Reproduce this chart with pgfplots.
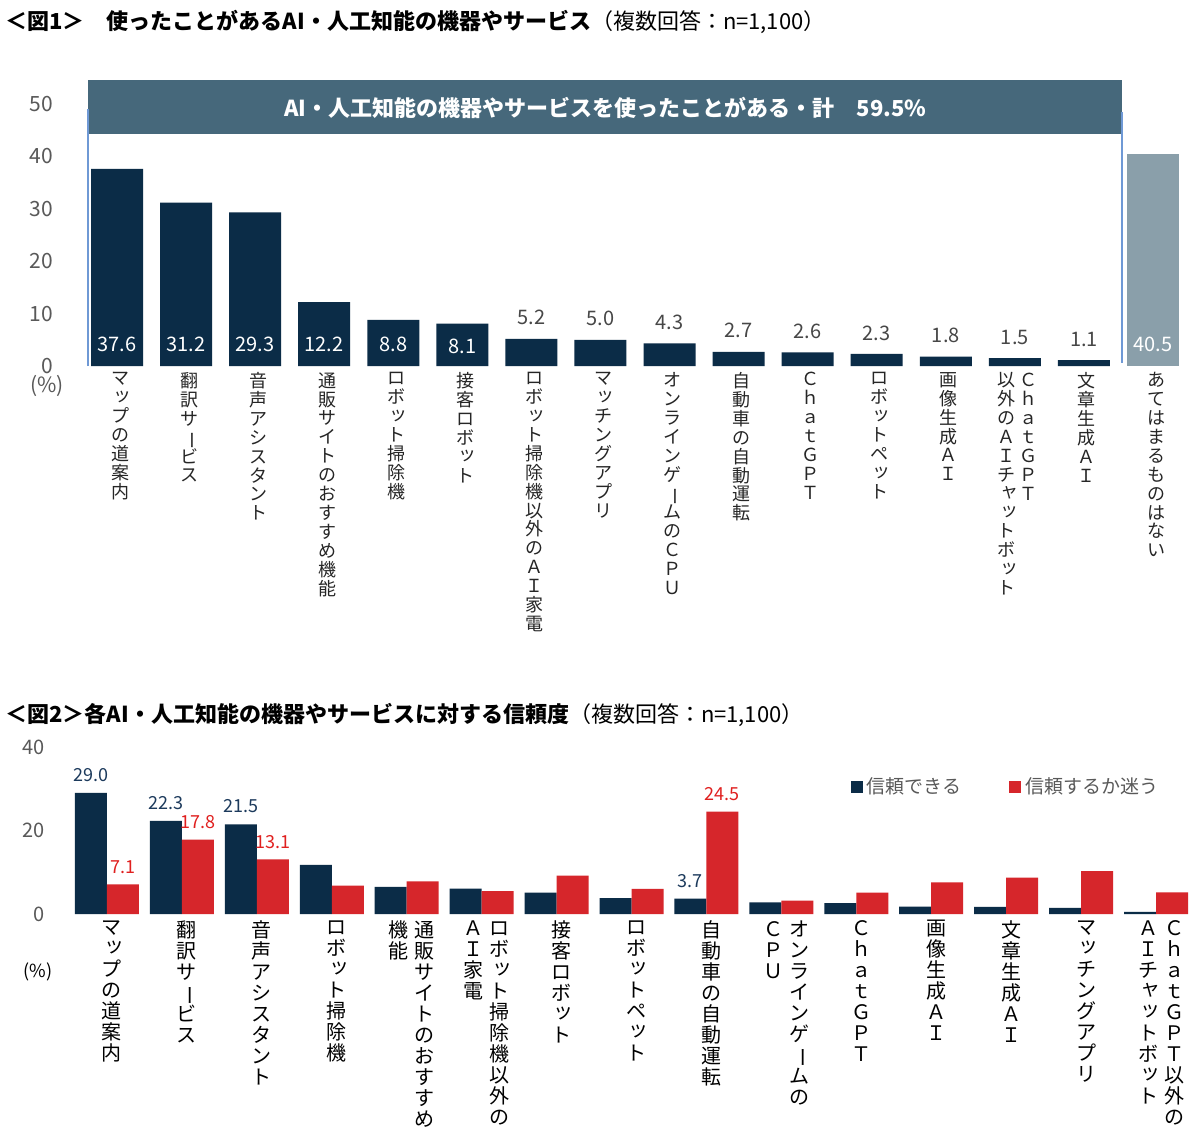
\documentclass[border=0pt]{standalone}
\usepackage{pgfplots}
\pgfplotsset{compat=1.18}
\usepackage{fontspec}
\usepackage{graphicx}
\setmainfont{Noto Sans CJK JP}
\definecolor{navy}{HTML}{0B2C47}
\definecolor{boxc}{HTML}{46687B}
\definecolor{grayb}{HTML}{8A9FAA}
\definecolor{redb}{HTML}{D6262B}
\definecolor{linec}{HTML}{6F99D5}
\definecolor{tickc}{HTML}{595959}
\definecolor{navyt}{HTML}{1C3A5C}
\definecolor{redt}{HTML}{E0201F}
\definecolor{labc}{HTML}{262626}
\ExplSyntaxOn
\cs_new:Npn \vt_small:n #1 { \hbox{\kern0.12em\raise0.12em\hbox{#1}\kern-0.12em} }
\cs_new:Npn \vt_char:n #1
 {
  \str_case:nnF {#1}
   {
    {ー}{ \rotatebox[origin=c]{-90}{ー} }
    {ッ}{ \vt_small:n {ッ} }
    {ャ}{ \vt_small:n {ャ} }
    {ョ}{ \vt_small:n {ョ} }
    {ュ}{ \vt_small:n {ュ} }
    {ィ}{ \vt_small:n {ィ} }
   }
   {#1}
 }
\NewDocumentCommand \vcol { m }
 {
  \vtop
   {
    \baselineskip=1.05em
    \lineskip=0pt
    \lineskiplimit=-100pt
    \tl_map_inline:nn {#1} { \hbox to 1.05em { \hss \vt_char:n {##1} \hss } }
   }
 }
\ExplSyntaxOff
\begin{document}
\begin{tikzpicture}
\useasboundingbox (0,0) rectangle (600pt,-571pt);
\fill[white] (0,0) rectangle (600pt,-571pt);
\clip (0,0) rectangle (600pt,-571pt);

\node[anchor=west, inner sep=0pt, font=\fontsize{11}{13}\selectfont, text=black] at (2.5pt,-11pt)
 {\textbf{＜図1＞　使ったことがあるAI・人工知能の機器やサービス}（複数回答：n=1,100）};
\node[anchor=west, inner sep=0pt, font=\fontsize{11}{13}\selectfont, text=black] at (2.5pt,-357.5pt)
 {\textbf{＜図2＞各AI・人工知能の機器やサービスに対する信頼度}（複数回答：n=1,100）};

% ---------------- Chart 1 ----------------
\begin{axis}[
 at={(44pt,-183pt)}, anchor=south west,
 scale only axis, width=547pt, height=131pt,
 xmin=-0.42, xmax=15.42, ymin=0, ymax=50,
 axis line style={draw=none}, major tick length=0pt,
 ytick={0,10,...,50},
 yticklabel style={font=\fontsize{10.5}{12}\selectfont, text=tickc, xshift=-14pt},
 /pgf/number format/assume math mode=true,
 xtick={0,...,15},
 xticklabels={
  {\vcol{マップの道案内}},
  {\vcol{翻訳サービス}},
  {\vcol{音声アシスタント}},
  {\vcol{通販サイトのおすすめ機能}},
  {\vcol{ロボット掃除機}},
  {\vcol{接客ロボット}},
  {\vcol{ロボット掃除機以外のＡＩ家電}},
  {\vcol{マッチングアプリ}},
  {\vcol{オンラインゲームのＣＰＵ}},
  {\vcol{自動車の自動運転}},
  {\vcol{ＣｈａｔＧＰＴ}},
  {\vcol{ロボットペット}},
  {\vcol{画像生成ＡＩ}},
  {\vcol{以外のＡＩチャットボット}\hspace{1.5pt}\vcol{ＣｈａｔＧＰＴ}\hspace{3pt}},
  {\vcol{文章生成ＡＩ}},
  {\vcol{あてはまるものはない}}
 },
 xticklabel style={anchor=north, inner sep=0pt, yshift=-3pt, xshift=1.5pt, font=\fontsize{9}{10}\selectfont, text=labc},
 clip=false,
]
\fill[boxc] (axis cs:-0.42,44.3) rectangle (axis cs:14.55,54.6);
\draw[linec, line width=0.7pt] (axis cs:-0.42,0) -- (axis cs:-0.42,49);
\draw[linec, line width=0.7pt] (axis cs:14.55,0.6) -- (axis cs:14.55,48.5);
\node[text=white, font=\bfseries\fontsize{11}{13}\selectfont] at (axis cs:7.07,49.3)
 {AI・人工知能の機器やサービスを使ったことがある・計\quad 59.5\%};

\addplot[ybar, bar width=26pt, bar shift=0pt, fill=navy, draw=none] coordinates {
 (0,37.6) (1,31.2) (2,29.3) (3,12.2) (4,8.8) (5,8.1) (6,5.2) (7,5.0)
 (8,4.3) (9,2.7) (10,2.6) (11,2.3) (12,1.8) (13,1.5) (14,1.1)};
\addplot[ybar, bar width=26pt, bar shift=0pt, fill=grayb, draw=none] coordinates {(15,40.5)};

\addplot[draw=none, nodes near coords, point meta=explicit symbolic,
 nodes near coords style={anchor=center, text=white, font=\fontsize{10}{12}\selectfont}]
 coordinates {(0,4.2)[37.6] (1,4.2)[31.2] (2,4.2)[29.3] (3,4.2)[12.2] (4,4.2)[8.8] (5,3.7)[8.1] (15,4.2)[40.5]};
\addplot[draw=none, nodes near coords, point meta=explicit symbolic,
 nodes near coords style={anchor=center, yshift=10.5pt, text=labc!85, font=\fontsize{10}{12}\selectfont}]
 coordinates {(6,5.2)[5.2] (7,5.0)[5.0] (8,4.3)[4.3] (9,2.7)[2.7] (10,2.6)[2.6] (11,2.3)[2.3] (12,1.8)[1.8] (13,1.5)[1.5] (14,1.1)[1.1]};
\end{axis}
\node[font=\fontsize{10.5}{12}\selectfont, text=tickc] at (23.5pt,-193pt) {(\%)};

% ---------------- Chart 2 ----------------
\begin{axis}[
 at={(37pt,-457pt)}, anchor=south west,
 scale only axis, width=557.5pt, height=83.5pt,
 xmin=-0.44, xmax=14.44, ymin=0, ymax=40,
 ybar=0pt, bar width=16pt,
 axis line style={draw=none}, major tick length=0pt,
 ytick={0,20,40},
 yticklabel style={font=\fontsize{10}{12}\selectfont, text=tickc, xshift=-11pt},
 /pgf/number format/assume math mode=true,
 xtick={0,...,14},
 xticklabels={
  {\vcol{マップの道案内}},
  {\vcol{翻訳サービス}},
  {\vcol{音声アシスタント}},
  {\vcol{ロボット掃除機}},
  {\vcol{機能}\hspace{2.5pt}\vcol{通販サイトのおすすめ}\hspace{8pt}},
  {\vcol{ＡＩ家電}\hspace{2.5pt}\vcol{ロボット掃除機以外の}\hspace{8pt}},
  {\vcol{接客ロボット}},
  {\vcol{ロボットペット}},
  {\vcol{自動車の自動運転}},
  {\vcol{ＣＰＵ}\hspace{2.5pt}\vcol{オンラインゲームの}\hspace{7pt}},
  {\vcol{ＣｈａｔＧＰＴ}},
  {\vcol{画像生成ＡＩ}},
  {\vcol{文章生成ＡＩ}},
  {\vcol{マッチングアプリ}},
  {\vcol{ＡＩチャットボット}\hspace{2.5pt}\vcol{ＣｈａｔＧＰＴ以外の}\hspace{5pt}}
 },
 xticklabel style={anchor=north, inner sep=0pt, yshift=-3pt, xshift=2.5pt, font=\fontsize{10}{12}\selectfont, text=black},
 legend style={at={(0.691,0.76)}, anchor=west, draw=none, fill=none, legend columns=2,
   font=\fontsize{9.5}{11}\selectfont, text=tickc,
   /tikz/every even column/.append style={column sep=22pt}},
 legend image code/.code={\fill[#1] (0pt,-3pt) rectangle (6pt,3pt);},
 nodes near coords, point meta=explicit symbolic,
 clip=false,
]
\addplot[fill=navy, draw=none, nodes near coords style={text=navyt, font=\fontsize{9}{11}\selectfont, yshift=2pt}] coordinates {
 (0,29.0)[29.0] (1,22.3)[22.3] (2,21.5)[21.5] (3,11.8)[{}] (4,6.5)[{}] (5,6.1)[{}] (6,5.1)[{}] (7,3.8)[{}]
 (8,3.7)[3.7] (9,2.8)[{}] (10,2.6)[{}] (11,1.8)[{}] (12,1.7)[{}] (13,1.5)[{}] (14,0.5)[{}]};
\addplot[fill=redb, draw=none, nodes near coords style={text=redt, font=\fontsize{9}{11}\selectfont, yshift=2pt}] coordinates {
 (0,7.1)[7.1] (1,17.8)[17.8] (2,13.1)[13.1] (3,6.8)[{}] (4,7.8)[{}] (5,5.5)[{}] (6,9.2)[{}] (7,6.0)[{}]
 (8,24.5)[24.5] (9,3.2)[{}] (10,5.1)[{}] (11,7.6)[{}] (12,8.7)[{}] (13,10.3)[{}] (14,5.2)[{}]};
\legend{信頼できる,信頼するか迷う}
\end{axis}
\node[font=\fontsize{9}{11}\selectfont, text=black] at (19pt,-486pt) {(\%)};
\end{tikzpicture}
\end{document}
